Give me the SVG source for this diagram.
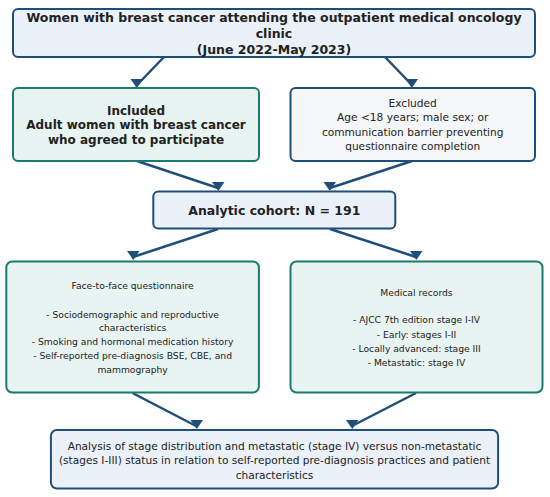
<svg xmlns="http://www.w3.org/2000/svg" width="550" height="497" viewBox="0 0 550 497">
<style>
text{font-family:"DejaVu Sans",sans-serif;fill:#222;text-anchor:middle}
.b{font-weight:bold;font-size:12.5px}
.bi{font-weight:bold;font-size:12px}
.n{font-size:10.6px}
.s{font-size:9.2px}
.blue{fill:#EAF1F8;stroke:#1F4E79;stroke-width:2}
.gray{fill:#F4F6F8;stroke:#1F4E79;stroke-width:2}
.teal{fill:#E8F4F1;stroke:#1B7A6E;stroke-width:2}
.ln{stroke:#1F4E79;stroke-width:2.5;fill:none}
.hd{fill:#1F4E79}
</style>
<rect width="550" height="497" fill="#fff"/>
<g id="connectors">
<line class="ln" x1="164" y1="57" x2="137" y2="85"/><polygon class="hd" points="130.5,79 143,79 136.8,88"/>
<line class="ln" x1="385" y1="57" x2="412" y2="85"/><polygon class="hd" points="405.5,79 418,79 411.8,88"/>
<line class="ln" x1="137" y1="161" x2="218" y2="188"/><polygon class="hd" points="212,182 224.5,182 218.3,191"/>
<line class="ln" x1="412" y1="161" x2="330" y2="188"/><polygon class="hd" points="323.5,182 336,182 329.8,191"/>
<line class="ln" x1="218" y1="229" x2="133" y2="257"/><polygon class="hd" points="127,251 139.5,251 133.3,260"/>
<line class="ln" x1="330" y1="229" x2="416" y2="257"/><polygon class="hd" points="410,251 422.5,251 416.3,260"/>
<line class="ln" x1="132.5" y1="393" x2="196" y2="426"/><polygon class="hd" points="190.5,420 203,420 196.8,429"/>
<line class="ln" x1="416" y1="393" x2="352" y2="426"/><polygon class="hd" points="346,420 358.5,420 352.3,429"/>
</g>
<g id="top">
<rect class="blue" x="13" y="9" width="522" height="48" rx="5"/>
<text class="b" x="274" y="22">Women with breast cancer attending the outpatient medical oncology</text>
<text class="b" x="274" y="38">clinic</text>
<text class="b" x="274" y="53.5">(June 2022-May 2023)</text>
</g>
<g id="included">
<rect class="teal" x="13" y="88" width="246" height="73" rx="5"/>
<text class="bi" x="136" y="114.5">Included</text>
<text class="bi" x="136" y="129">Adult women with breast cancer</text>
<text class="bi" x="136" y="143.5">who agreed to participate</text>
</g>
<g id="excluded">
<rect class="gray" x="290.5" y="88" width="244.5" height="73" rx="5"/>
<text class="n" x="412.7" y="107">Excluded</text>
<text class="n" x="412.7" y="121">Age &lt;18 years; male sex; or</text>
<text class="n" x="412.7" y="135.5">communication barrier preventing</text>
<text class="n" x="412.7" y="150">questionnaire completion</text>
</g>
<g id="cohort">
<rect class="blue" x="153.3" y="191.5" width="242" height="37" rx="5"/>
<text class="b" x="274.3" y="214.5">Analytic cohort: N = 191</text>
</g>
<g id="questionnaire">
<rect class="teal" x="6.3" y="261.5" width="252.6" height="131" rx="6"/>
<text class="s" x="132.6" y="288.5">Face-to-face questionnaire</text>
<text class="s" x="132.6" y="317.5">- Sociodemographic and reproductive</text>
<text class="s" x="132.6" y="331">characteristics</text>
<text class="s" x="132.6" y="344.5">- Smoking and hormonal medication history</text>
<text class="s" x="132.6" y="358.5">- Self-reported pre-diagnosis BSE, CBE, and</text>
<text class="s" x="132.6" y="372.5">mammography</text>
</g>
<g id="records">
<rect class="teal" x="290.5" y="261.5" width="252" height="131" rx="6"/>
<text class="s" x="416.5" y="295.5">Medical records</text>
<text class="s" x="416.5" y="322.5">- AJCC 7th edition stage I-IV</text>
<text class="s" x="416.5" y="337.5">- Early: stages I-II</text>
<text class="s" x="416.5" y="351.5">- Locally advanced: stage III</text>
<text class="s" x="416.5" y="366">- Metastatic: stage IV</text>
</g>
<g id="analysis">
<rect class="blue" x="50.9" y="430" width="447.2" height="58.5" rx="6"/>
<text class="n" x="274.5" y="449.5">Analysis of stage distribution and metastatic (stage IV) versus non-metastatic</text>
<text class="n" x="274.5" y="464">(stages I-III) status in relation to self-reported pre-diagnosis practices and patient</text>
<text class="n" x="274.5" y="478.5">characteristics</text>
</g>
</svg>
